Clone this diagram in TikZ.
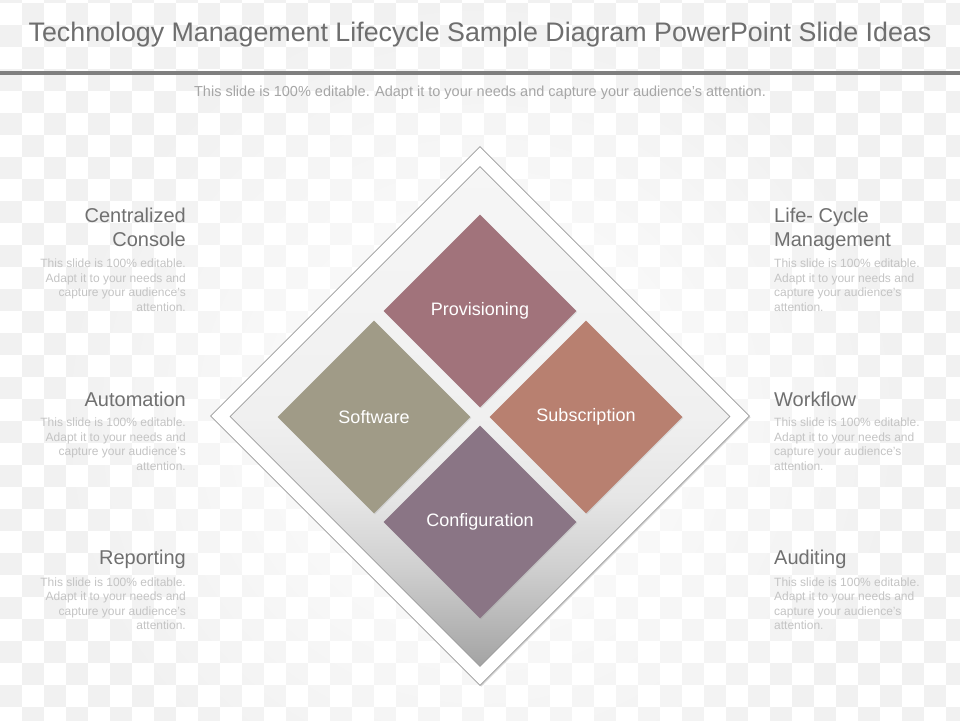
\documentclass[tikz,border=0pt]{standalone}
\usepackage{fontspec}
\setmainfont{Liberation Sans}
\usetikzlibrary{shapes.geometric,shadows,fadings}
\definecolor{titlegray}{HTML}{6E6E6E}
\definecolor{rulegray}{HTML}{7F7F7F}
\definecolor{subgray}{HTML}{A6A6A6}
\definecolor{headgray}{HTML}{707070}
\definecolor{bodygray}{HTML}{C4C4C4}
\definecolor{checkgray}{HTML}{F1F1F1}
\definecolor{framegray}{HTML}{9A9A9A}
\definecolor{provcol}{HTML}{A1737B}
\definecolor{softcol}{HTML}{A09B87}
\definecolor{subscol}{HTML}{B88070}
\definecolor{confcol}{HTML}{8A7585}
\definecolor{sh1}{HTML}{A3A3A3}
\definecolor{sh2}{HTML}{D0D0D0}
\definecolor{sh3}{HTML}{E6E6E6}
\definecolor{sh4}{HTML}{F0F0F0}
\definecolor{sh5}{HTML}{F6F6F6}
\pgfdeclareverticalshading{innershade}{100bp}{color(0bp)=(sh1); color(25bp)=(sh1); color(35bp)=(sh2); color(42bp)=(sh3); color(50bp)=(sh4); color(75bp)=(sh5); color(100bp)=(sh5)}
\tikzfading[name=centerfade, inner color=transparent!0, outer color=transparent!100]
\begin{document}
\begin{tikzpicture}[x=1pt,y=-1pt,
  heading/.style={font=\fontsize{20}{24}\selectfont, text=headgray, inner sep=0pt},
  body/.style={font=\fontsize{12}{14.4}\selectfont, text=bodygray, inner sep=0pt},
  tile/.style={diamond, aspect=1, minimum size=193pt, inner sep=0pt, draw=none,
    text=white, font=\fontsize{18}{22}\selectfont,
    drop shadow={opacity=0.18, shadow xshift=1pt, shadow yshift=-1pt}},
  frame/.style={diamond, aspect=1, inner sep=0pt, draw=framegray, line width=0.8pt}
]
\useasboundingbox (0,0) rectangle (960,720);
\fill[white] (0,0) rectangle (960,720);
% checkerboard background
\foreach \i in {0,...,21}{
  \foreach \j in {-1,...,16}{
    \fill[checkgray] (44*\i+22,3+44*\j) rectangle ++(22,22);
    \fill[checkgray] (44*\i,25+44*\j) rectangle ++(22,22);
  }
}
\fill[white, path fading=centerfade] (480,420) circle (440);

% title and rule
\node[font=\fontsize{26.8}{30}\selectfont, text=titlegray, anchor=base, inner sep=0pt] (title) at (480,41.5)
  {Technology Management Lifecycle Sample Diagram PowerPoint Slide Ideas};
\draw[line width=4pt, rulegray] (0,72.5) -- (960,72.5);
\node[font=\fontsize{14.5}{17}\selectfont, text=subgray, anchor=base, inner sep=0pt] (subtitle) at (480,96)
  {This slide is 100\% editable. Adapt it to your needs and capture your audience's attention.};

% frames
\node[frame, minimum size=539pt, fill=white,
  drop shadow={opacity=0.3, shadow xshift=1.2pt, shadow yshift=-1.2pt}] (outer) at (480,416) {};
\node[frame, minimum size=500pt, shading=innershade] (inner) at (480,416.5) {};

% tiles
\node[tile, fill=provcol] (prov) at (480,311) {Provisioning};
\node[tile, fill=softcol] (soft) at (374,417) {Software};
\node[tile, fill=subscol] (subs) at (586,417) {Subscription};
\node[tile, fill=confcol] (conf) at (480,522) {Configuration};

% left texts
\node[heading, align=right, anchor=north east] (h1) at (186,208) {Centralized\\Console};
\node[body, align=right, anchor=north east] (b1) at (186,259) {This slide is 100\% editable.\\Adapt it to your needs and\\capture your audience's\\attention.};
\node[heading, align=right, anchor=north east] (h2) at (186,392) {Automation};
\node[body, align=right, anchor=north east] (b2) at (186,418) {This slide is 100\% editable.\\Adapt it to your needs and\\capture your audience's\\attention.};
\node[heading, align=right, anchor=north east] (h3) at (186,550) {Reporting};
\node[body, align=right, anchor=north east] (b3) at (186,577.5) {This slide is 100\% editable.\\Adapt it to your needs and\\capture your audience's\\attention.};

% right texts
\node[heading, align=left, anchor=north west] (h4) at (774,208) {Life- Cycle\\Management};
\node[body, align=left, anchor=north west] (b4) at (774,259) {This slide is 100\% editable.\\Adapt it to your needs and\\capture your audience's\\attention.};
\node[heading, align=left, anchor=north west] (h5) at (774,392) {Workflow};
\node[body, align=left, anchor=north west] (b5) at (774,418) {This slide is 100\% editable.\\Adapt it to your needs and\\capture your audience's\\attention.};
\node[heading, align=left, anchor=north west] (h6) at (774,550) {Auditing};
\node[body, align=left, anchor=north west] (b6) at (774,577.5) {This slide is 100\% editable.\\Adapt it to your needs and\\capture your audience's\\attention.};
\end{tikzpicture}
\end{document}
